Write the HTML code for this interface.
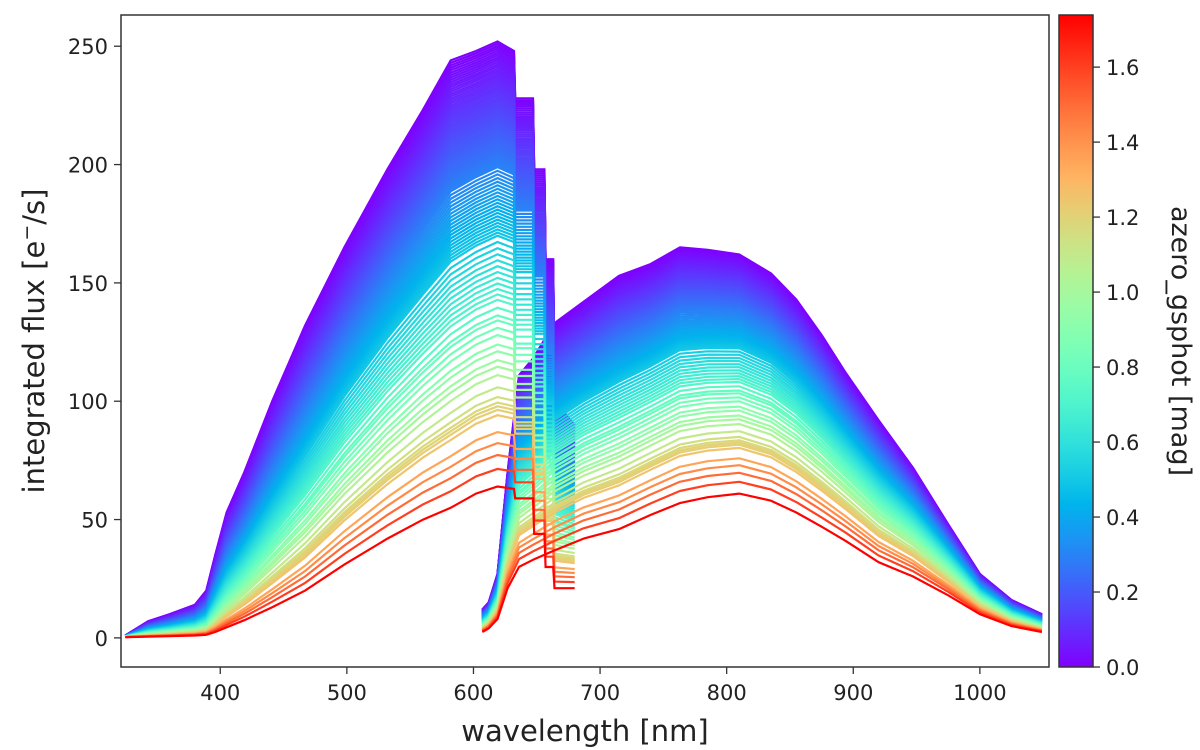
<!DOCTYPE html>
<html><head><meta charset="utf-8">
<style>
html,body{margin:0;padding:0;background:#fff;}
svg{display:block;font-family:"DejaVu Sans","Liberation Sans",sans-serif;}
</style></head>
<body>
<svg id="chart" width="1200" height="750" viewBox="0 0 1200 750" xmlns="http://www.w3.org/2000/svg">
  <defs>
    <clipPath id="plotclip"><rect x="121" y="15" width="928" height="652"/></clipPath>
    <linearGradient id="cbgrad" x1="0" y1="1" x2="0" y2="0"></linearGradient>
  </defs>
  <rect x="121" y="15" width="928" height="652" fill="#fff"/>
  <g id="lines" clip-path="url(#plotclip)"></g>
  <rect x="121" y="15" width="928" height="652" fill="none" stroke="#333" stroke-width="1.5"/>
  <g id="xticks"></g>
  <g id="yticks"></g>
  <text x="585" y="741" font-size="29" text-anchor="middle" fill="#222">wavelength [nm]</text>
  <text transform="translate(44,341) rotate(-90)" font-size="29" text-anchor="middle" fill="#222">integrated flux [e<tspan baseline-shift="super" font-size="19">−</tspan>/s]</text>
  <rect id="cbar" x="1059" y="15" width="34" height="652" fill="url(#cbgrad)" stroke="#333" stroke-width="1.5"/>
  <g id="cbticks"></g>
  <text transform="translate(1172,341) rotate(90)" font-size="27" text-anchor="middle" fill="#222">azero_gsphot [mag]</text>
</svg>
<script>
// ---- data ----
const bpWave = [325,343,360,380,389,396,405,419,441,467,498,532,560,582,602,619,632,633,647,648,656,657,663,664,680];
const bpTop  = [1,7,10,14,20,35,53,70,100,132,165,198,223,244,248,252,248,228,228,198,198,160,160,100,90];
const bpBot  = [0.3,0.5,0.7,1,1.3,2.5,4.5,7.5,13,20,31,42,50,55,61,64,63,59,59,44,44,30,30,21,21];
const rpWave = [607,612,619,627,636,647,664,687,715,740,763,785,810,835,855,875,894,920,947,975,1000,1025,1049];
const rpTop  = [12,15,27,70,111,118,133,142,153,158,165,164,162,154,143,128,112,92,72,48,27,16,10];
const rpBot  = [2.5,4,8,21,30,33,37,42,46,52,57,59.5,61,58,53,47,41,32,26,18,10,5,2.5];
const extinction = [0,0.005,0.01,0.015,0.02,0.025,0.03,0.035,0.04,0.045,0.05,0.055,0.06,0.065,0.07,0.075,0.08,0.085,0.09,0.095,0.10,0.105,0.11,0.115,0.12,0.125,0.13,0.135,0.14,0.145,0.15,0.155,0.16,0.165,0.17,0.175,0.18,0.185,0.19,0.195,0.20,0.205,0.21,0.215,0.22,0.225,0.23,0.235,0.24,0.245,0.25,0.255,0.26,0.265,0.27,0.275,0.28,0.285,0.29,0.295,0.30,0.31,0.32,0.33,0.34,0.35,0.36,0.37,0.38,0.39,0.40,0.41,0.42,0.43,0.44,0.45,0.46,0.47,0.48,0.49,0.50,0.52,0.54,0.56,0.58,0.60,0.62,0.64,0.66,0.68,0.70,0.72,0.75,0.78,0.80,0.83,0.86,0.90,0.93,0.97,1.00,1.04,1.10,1.15,1.18,1.20,1.22,1.25,1.35,1.42,1.50,1.60,1.74];
const xTicks = [400,500,600,700,800,900,1000];
const yTicks = [0,50,100,150,200,250];
const cbTicks = [0.0,0.2,0.4,0.6,0.8,1.0,1.2,1.4,1.6];

// ---- scales ----
const X0 = 321.6, X1 = 1054.6, PL = 121, PR = 1049;
const Y0 = -12.3, Y1 = 263.2, PB = 667, PT = 15;
const xs = v => PL + (v - X0) / (X1 - X0) * (PR - PL);
const ys = v => PB - (v - Y0) / (Y1 - Y0) * (PB - PT);
const AMAX = 1.739;
const cs = v => 667 - v / AMAX * 652;
function rainbow(t){
  t = Math.max(0, Math.min(1, t));
  const r = Math.min(1, Math.abs(2*t - 0.5));
  const g = Math.sin(Math.PI*t);
  const b = Math.cos(Math.PI*t/2);
  return `rgb(${Math.round(r*255)},${Math.round(g*255)},${Math.round(b*255)})`;
}
const NS = "http://www.w3.org/2000/svg";
function mk(tag, attrs){ const e = document.createElementNS(NS, tag); for (const k in attrs) e.setAttribute(k, attrs[k]); return e; }

// ---- lines ----
const lg = document.getElementById('lines');
function curve(wave, top, bot, a){
  const f = a / AMAX;
  let d = '';
  for (let i = 0; i < wave.length; i++){
    const v = top[i] * Math.pow(bot[i] / top[i], f);
    d += (i ? 'L' : 'M') + xs(wave[i]).toFixed(1) + ' ' + ys(v).toFixed(1);
  }
  return d;
}
extinction.forEach((a, i) => {
  const col = rainbow(a / AMAX);
  const p1 = mk('path', {d: curve(bpWave, bpTop, bpBot, a), fill:'none', stroke: col, 'stroke-width': 2.2, 'stroke-linejoin':'miter'});
  
  
  lg.appendChild(p1);
  const p2 = mk('path', {d: curve(rpWave, rpTop, rpBot, a), fill:'none', stroke: col, 'stroke-width': 2.2, 'stroke-linejoin':'round'});
  
  
  lg.appendChild(p2);
});

// ---- axes ----
const xg = document.getElementById('xticks');
xTicks.forEach(t => {
  const x = xs(t);
  const l = mk('line', {x1:x, x2:x, y1:667, y2:674, stroke:'#333', 'stroke-width':1.3});
  
  
  xg.appendChild(l);
  const tx = mk('text', {x:x, y:700, 'font-size':21, 'text-anchor':'middle', fill:'#222'});
  
  
  tx.textContent = t; xg.appendChild(tx);
});
const yg = document.getElementById('yticks');
yTicks.forEach(t => {
  const y = ys(t);
  const l = mk('line', {x1:114, x2:121, y1:y, y2:y, stroke:'#333', 'stroke-width':1.3});
  
  
  yg.appendChild(l);
  const tx = mk('text', {x:108, y:y+8, 'font-size':21, 'text-anchor':'end', fill:'#222'});
  
  
  tx.textContent = t; yg.appendChild(tx);
});

// ---- colorbar ----
const grad = document.getElementById('cbgrad');
for (let i = 0; i <= 20; i++){
  grad.appendChild(mk('stop', {offset: (i/20), 'stop-color': rainbow(i/20)}));
}
const cg = document.getElementById('cbticks');
cbTicks.forEach(t => {
  const y = cs(t);
  const l = mk('line', {x1:1093, x2:1100, y1:y, y2:y, stroke:'#333', 'stroke-width':1.3});
  
  
  cg.appendChild(l);
  const tx = mk('text', {x:1106, y:y+8, 'font-size':21, fill:'#222'});
  
  
  tx.textContent = t.toFixed(1); cg.appendChild(tx);
});
</script>
</body></html>
